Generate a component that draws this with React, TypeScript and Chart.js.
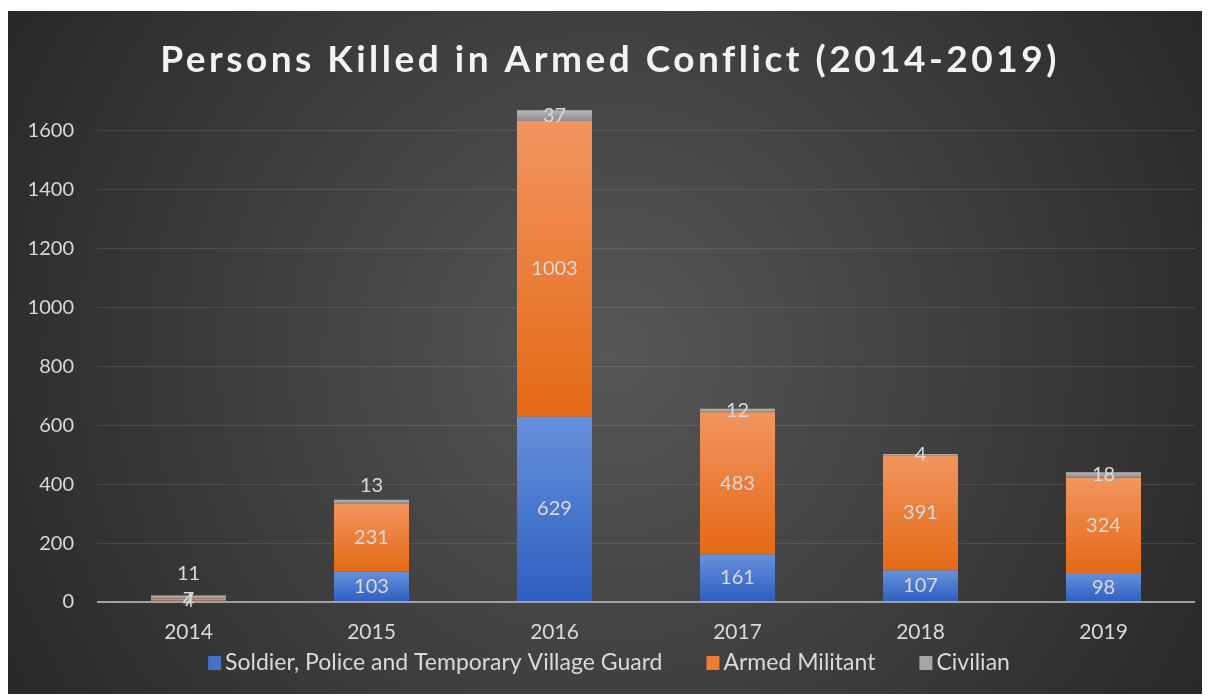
import React, { useEffect, useRef } from "react";
import { Chart, registerables } from "chart.js";

Chart.register(...registerables);

const categories = ["2014", "2015", "2016", "2017", "2018", "2019"];
const soldierValues = [4, 103, 629, 161, 107, 98];
const militantValues = [7, 231, 1003, 483, 391, 324];
const civilianValues = [11, 13, 37, 12, 4, 18];
const seriesNames = [
  "Soldier, Police and Temporary Village Guard",
  "Armed Militant",
  "Civilian",
];
const yTickStep = 200;
const yMax = 1700;
const titleText = "Persons Killed in Armed Conflict (2014-2019)";

// style: label nudges for small civilian segments (pixels)
const civilianLabelNudge = [-24, -16, 0, 0, 0, 0];

const gradientStops: [string, string][] = [
  ["#6791dc", "#2d5ec0"],
  ["#f29560", "#e46914"],
  ["#b8b8b8", "#8c8c8c"],
];
const legendColors = ["#4472c4", "#ed7d31", "#a5a5a5"];
const textColor = "#d9d9d9";
const FONT = "Lato, 'Open Sans', sans-serif";

function segGradient(idx: number) {
  const [c0, c1] = gradientStops[idx];
  return (c: any) => {
    const chart = c.chart;
    const ys = chart.scales && chart.scales.y;
    if (c.type !== "data" || !ys || !chart.chartArea) return c1;
    const i = c.dataIndex;
    let start = 0;
    for (let d = 0; d < c.datasetIndex; d++) start += chart.data.datasets[d].data[i];
    const end = start + chart.data.datasets[c.datasetIndex].data[i];
    const top = ys.getPixelForValue(end);
    const bottom = ys.getPixelForValue(start);
    if (!isFinite(top) || !isFinite(bottom) || Math.abs(bottom - top) < 0.5) return c1;
    const g = chart.ctx.createLinearGradient(0, top, 0, bottom);
    g.addColorStop(0, c0);
    g.addColorStop(1, c1);
    return g;
  };
}

const backgroundPlugin = {
  id: "bgTitle",
  beforeDraw(chart: any) {
    const { ctx, width, height } = chart;
    ctx.save();
    const g = ctx.createRadialGradient(width / 2, height / 2, 0, width / 2, height / 2, 780);
    g.addColorStop(0, "#575757");
    g.addColorStop(1, "#222222");
    ctx.fillStyle = g;
    ctx.fillRect(0, 0, width, height);
    ctx.font = `bold 37px ${FONT}`;
    (ctx as any).letterSpacing = "3.5px";
    ctx.fillStyle = "#f2f2f2";
    ctx.textAlign = "center";
    ctx.textBaseline = "alphabetic";
    ctx.fillText(titleText, width / 2 + 1, 61);
    ctx.restore();
  },
};

const labelPlugin = {
  id: "segLabels",
  afterDatasetsDraw(chart: any) {
    const { ctx } = chart;
    ctx.save();
    ctx.font = `20px ${FONT}`;
    ctx.fillStyle = textColor;
    ctx.textAlign = "center";
    ctx.textBaseline = "middle";
    chart.data.datasets.forEach((ds: any, di: number) => {
      const meta = chart.getDatasetMeta(di);
      meta.data.forEach((el: any, i: number) => {
        const v = ds.data[i];
        let y = (el.y + el.base) / 2;
        if (di === 2) y += civilianLabelNudge[i];
        ctx.fillText(String(v), el.x, y);
      });
    });
    ctx.restore();
  },
};

const legendPlugin = {
  id: "bottomLegend",
  afterDraw(chart: any) {
    const { ctx, width } = chart;
    ctx.save();
    ctx.font = `23px ${FONT}`;
    ctx.textBaseline = "middle";
    ctx.textAlign = "left";
    const box = 13;
    const boxGap = 4;
    const itemGap = 44;
    const widths = seriesNames.map((n) => box + boxGap + ctx.measureText(n).width);
    const total = widths.reduce((a, b) => a + b, 0) + itemGap * (seriesNames.length - 1);
    let x = width / 2 - total / 2;
    const cy = 652;
    seriesNames.forEach((n, i) => {
      ctx.fillStyle = legendColors[i];
      ctx.fillRect(x, cy - 7, box, 14);
      ctx.fillStyle = textColor;
      ctx.fillText(n, x + box + boxGap, cy);
      x += widths[i] + itemGap;
    });
    ctx.restore();
  },
};

export default function App() {
  const canvasRef = useRef<HTMLCanvasElement | null>(null);

  useEffect(() => {
    document.body.style.overflow = "hidden";
    document.documentElement.style.overflow = "hidden";
    const canvas = canvasRef.current;
    if (!canvas) return;
    const seriesValues = [soldierValues, militantValues, civilianValues];
    const chart = new Chart(canvas, {
      type: "bar",
      data: {
        labels: categories,
        datasets: seriesValues.map((vals, i) => ({
          label: seriesNames[i],
          data: vals,
          backgroundColor: segGradient(i),
          borderWidth: 0,
          barPercentage: 0.41,
          categoryPercentage: 1,
        })),
      },
      options: {
        responsive: false,
        animation: false,
        devicePixelRatio: 1,
        layout: { padding: { top: 90, left: 0, right: 15, bottom: 45 } },
        plugins: {
          title: { display: false },
          tooltip: { enabled: false },
          legend: { display: false },
        },
        scales: {
          x: {
            stacked: true,
            grid: { display: false, drawTicks: false },
            border: { display: false },
            ticks: { color: textColor, font: { family: FONT, size: 21 }, padding: 18 },
            afterFit: (s: any) => {
              s.height = 50;
            },
          },
          y: {
            stacked: true,
            min: 0,
            max: yMax,
            grid: {
              drawTicks: false,
              color: (c: any) => (c.tick && c.tick.value === 0 ? "#a0a0a0" : "rgba(255,255,255,0.1)"),
              lineWidth: (c: any) => (c.tick && c.tick.value === 0 ? 2 : 1),
            },
            border: { display: false },
            ticks: {
              stepSize: yTickStep,
              color: textColor,
              font: { family: FONT, size: 20 },
              padding: 23,
              callback: (v: any) => String(v),
            },
            afterBuildTicks: (s: any) => {
              s.ticks = s.ticks.filter((t: any) => t.value % yTickStep === 0);
            },
            afterFit: (s: any) => {
              s.width = 89;
            },
          },
        },
      },
      plugins: [backgroundPlugin, labelPlugin, legendPlugin],
    });
    return () => chart.destroy();
  }, []);

  return (
    <div style={{ position: "relative", top: 3, width: 1202, height: 686 }}>
      <canvas ref={canvasRef} width={1202} height={686} style={{ display: "block" }} />
    </div>
  );
}
